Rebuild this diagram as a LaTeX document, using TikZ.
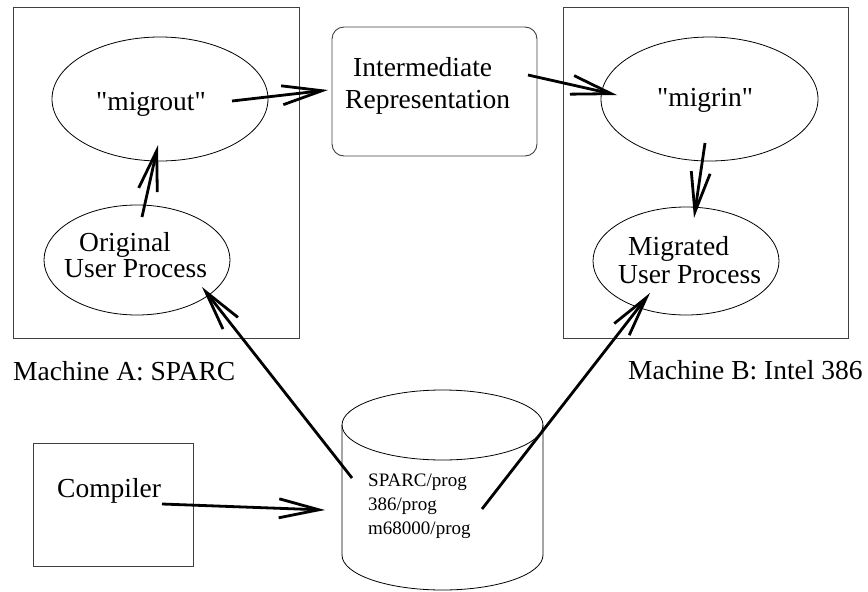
\documentclass[tikz,border=0pt]{standalone}
\usepackage{fontspec}
\setmainfont{Liberation Serif}[Ligatures=TeXOff]
\usetikzlibrary{arrows.meta,shapes.geometric}
\begin{document}
\begin{tikzpicture}[x=1pt,y=-1pt,
  frame/.style={draw=black!75,line width=0.9pt},
  oval/.style={ellipse,draw=black,line width=0.8pt,inner sep=0pt},
  txt/.style={inner sep=0pt,anchor=base west,align=left,font=\fontsize{27.5}{26}\selectfont},
  small/.style={inner sep=0pt,anchor=base west,align=left,font=\fontsize{19}{24}\selectfont},
  flow/.style={line width=2.8pt,-{Straight Barb[length=40pt,width=19pt]}}]
\useasboundingbox (0,0) rectangle (868,592);
% machine frames
\node[frame,rectangle,minimum width=286pt,minimum height=331pt,inner sep=0pt] (boxA) at (156,172.5) {};
\node[frame,rectangle,minimum width=285pt,minimum height=331pt,inner sep=0pt] (boxB) at (705.5,172.5) {};
% ellipses
\node[oval,minimum width=216pt,minimum height=124pt] (mo) at (160,99) {};
\node[oval,minimum width=186pt,minimum height=110pt] (oup) at (137,260) {};
\node[oval,minimum width=217pt,minimum height=124pt] (mi) at (709.5,99) {};
\node[oval,minimum width=186pt,minimum height=108pt] (mup) at (686,261) {};
% intermediate representation box
\node[frame,rectangle,rounded corners=12pt,minimum width=205pt,minimum height=129pt,inner sep=0pt] (ir) at (434.5,91.5) {};
% compiler box
\node[frame,rectangle,minimum width=160pt,minimum height=123pt,inner sep=0pt] (comp) at (113,504.5) {};
% database cylinder
\coordinate (db) at (442.5,490);
\draw[line width=0.8pt] (442.5,425) ellipse [x radius=100.5pt,y radius=35pt];
\draw[line width=0.8pt] (342,425) -- (342,555) arc [start angle=180,end angle=360,x radius=100.5pt,y radius=35pt] -- (543,425);
% texts (multi-line nodes anchored at the baseline of their last line)
\node[txt] (tmo) at (96,110) {"migrout"};
\node[txt] (toup) at (64,277) {\hspace*{15pt}Original\\User Process};
\node[txt,font=\fontsize{27.5}{32}\selectfont] (tir) at (345,108) {\hspace*{8pt}Intermediate\\Representation};
\node[txt] (tmi) at (657,106) {"migrin"};
\node[txt,font=\fontsize{27.5}{28}\selectfont] (tmup) at (618,283) {\hspace*{10pt}Migrated\\User Process};
\node[txt] (tA) at (13,380) {Machine A: SPARC};
\node[txt] (tB) at (628,379) {Machine B: Intel 386};
\node[txt] (tcomp) at (57,497) {Compiler};
\node[small] (tdb) at (368,534) {SPARC/prog\\386/prog\\m68000/prog};
% connector end points
\coordinate (moOut) at (232,101);
\coordinate (irIn) at (328,90);
\coordinate (oupOut) at (142,217);
\coordinate (moIn) at (158,145);
\coordinate (irOut) at (528,75);
\coordinate (miIn) at (617,95);
\coordinate (miOut) at (705,143);
\coordinate (mupIn) at (694,218);
\coordinate (dbA) at (352,478);
\coordinate (oupIn) at (202,287);
\coordinate (dbB) at (482,509);
\coordinate (mupIn2) at (650,293);
\coordinate (compOut) at (162,504);
\coordinate (dbIn) at (325,510);
% connectors
\draw[flow] (moOut) -- (irIn);
\draw[flow] (oupOut) -- (moIn);
\draw[flow] (irOut) -- (miIn);
\draw[flow] (miOut) -- (mupIn);
\draw[flow] (dbA) -- (oupIn);
\draw[flow] (dbB) -- (mupIn2);
\draw[flow] (compOut) -- (dbIn);
\end{tikzpicture}
\end{document}
